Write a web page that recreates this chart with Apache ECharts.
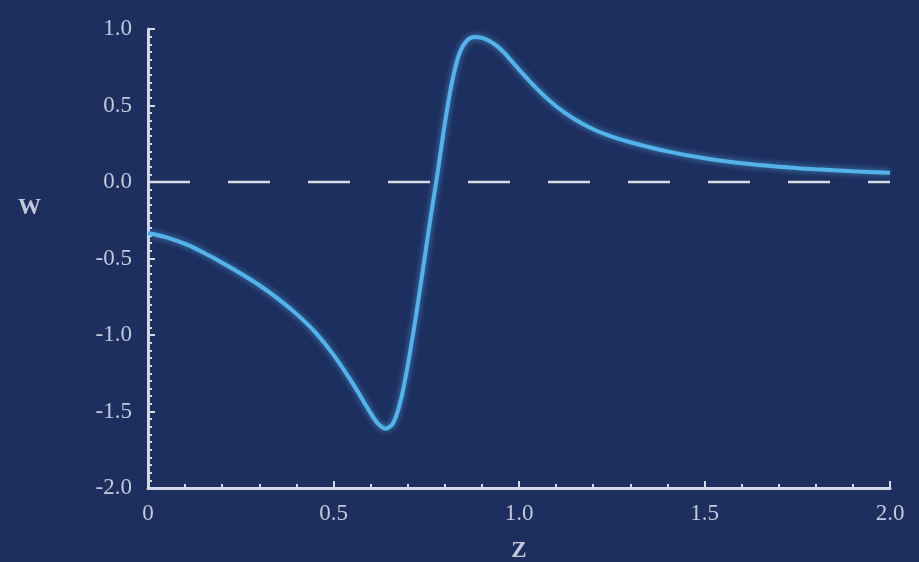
<!DOCTYPE html>
<html>
<head>
<meta charset="utf-8">
<script src="https://cdn.jsdelivr.net/npm/echarts@6/dist/echarts.min.js"></script>
<style>
html,body{margin:0;padding:0;background:#1d2f5f;}
#c{width:919px;height:562px;}
</style>
</head>
<body>
<div id="c"></div>
<script>
var zValues = [0, 0.05, 0.1, 0.15, 0.2, 0.25, 0.3, 0.35, 0.4, 0.45, 0.5, 0.55, 0.6, 0.62, 0.64, 0.66, 0.68, 0.7, 0.72, 0.74, 0.76, 0.78, 0.8, 0.82, 0.84, 0.86, 0.88, 0.9, 0.92, 0.94, 0.96, 0.98, 1.0, 1.05, 1.1, 1.15, 1.2, 1.25, 1.3, 1.4, 1.5, 1.6, 1.7, 1.8, 1.9, 2.0];
var wValues = [-0.333, -0.362, -0.405, -0.462, -0.527, -0.598, -0.675, -0.762, -0.862, -0.98, -1.13, -1.31, -1.51, -1.58, -1.612, -1.58, -1.44, -1.2, -0.91, -0.59, -0.26, 0.05, 0.38, 0.66, 0.845, 0.925, 0.948, 0.942, 0.922, 0.89, 0.845, 0.79, 0.735, 0.605, 0.495, 0.41, 0.345, 0.297, 0.26, 0.2, 0.155, 0.123, 0.1, 0.083, 0.07, 0.06];
var zeroLine = [[0, 0], [2, 0]];
var xTickLabels = ['0', '0.5', '1.0', '1.5', '2.0'];
var yTickLabels = ['-2.0', '-1.5', '-1.0', '-0.5', '0.0', '0.5', '1.0'];

var curve = zValues.map(function (z, i) { return [z, wValues[i]]; });
var axisColor = '#d4d8e6';
var labelColor = '#c3c8da';
var font = '"Liberation Serif", "DejaVu Serif", serif';

var chart = echarts.init(document.getElementById('c'));
chart.setOption({
  backgroundColor: '#1d2f5f',
  animation: false,
  grid: { left: 148, right: 29, top: 29, bottom: 74, containLabel: false, outerBoundsMode: 'none' },
  xAxis: {
    type: 'value', min: 0, max: 2, interval: 0.5,
    name: 'Z', nameLocation: 'middle', nameGap: 52,
    nameTextStyle: { color: labelColor, fontFamily: font, fontSize: 23, fontWeight: 'bold' },
    axisLine: { show: true, onZero: false, lineStyle: { color: axisColor, width: 3 } },
    axisTick: { show: true, inside: true, length: 7, lineStyle: { color: axisColor, width: 2 } },
    minorTick: { show: true, splitNumber: 5, length: 4, lineStyle: { color: axisColor, width: 2 } },
    splitLine: { show: false },
    axisLabel: {
      color: labelColor, fontFamily: font, fontSize: 23, margin: 14,
      formatter: function (v) { return xTickLabels[Math.round(v / 0.5)]; }
    }
  },
  yAxis: {
    type: 'value', min: -2, max: 1, interval: 0.5,
    axisLine: { show: true, onZero: false, lineStyle: { color: axisColor, width: 3 } },
    axisTick: { show: true, inside: true, length: 7, lineStyle: { color: axisColor, width: 2 } },
    minorTick: { show: true, splitNumber: 10, length: 4, lineStyle: { color: axisColor, width: 2 } },
    splitLine: { show: false },
    axisLabel: {
      color: labelColor, fontFamily: font, fontSize: 23, margin: 16,
      formatter: function (v) { return yTickLabels[Math.round((v + 2) / 0.5)]; }
    }
  },
  graphic: [{
    type: 'text', left: 18, top: 197,
    style: { text: 'W', fill: labelColor, font: 'bold 23px ' + font }
  }],
  series: [{
    type: 'line', data: zeroLine, symbol: 'none', silent: true, z: 1,
    lineStyle: { color: '#d8dbe6', width: 2.5, type: [42, 38] }
  }, {
    type: 'line', data: curve, symbol: 'none', smooth: 0.3, z: 2,
    lineStyle: { color: '#52b4ea', width: 4, shadowBlur: 6, shadowColor: 'rgba(90,180,240,0.7)' }
  }]
});
</script>
</body>
</html>
